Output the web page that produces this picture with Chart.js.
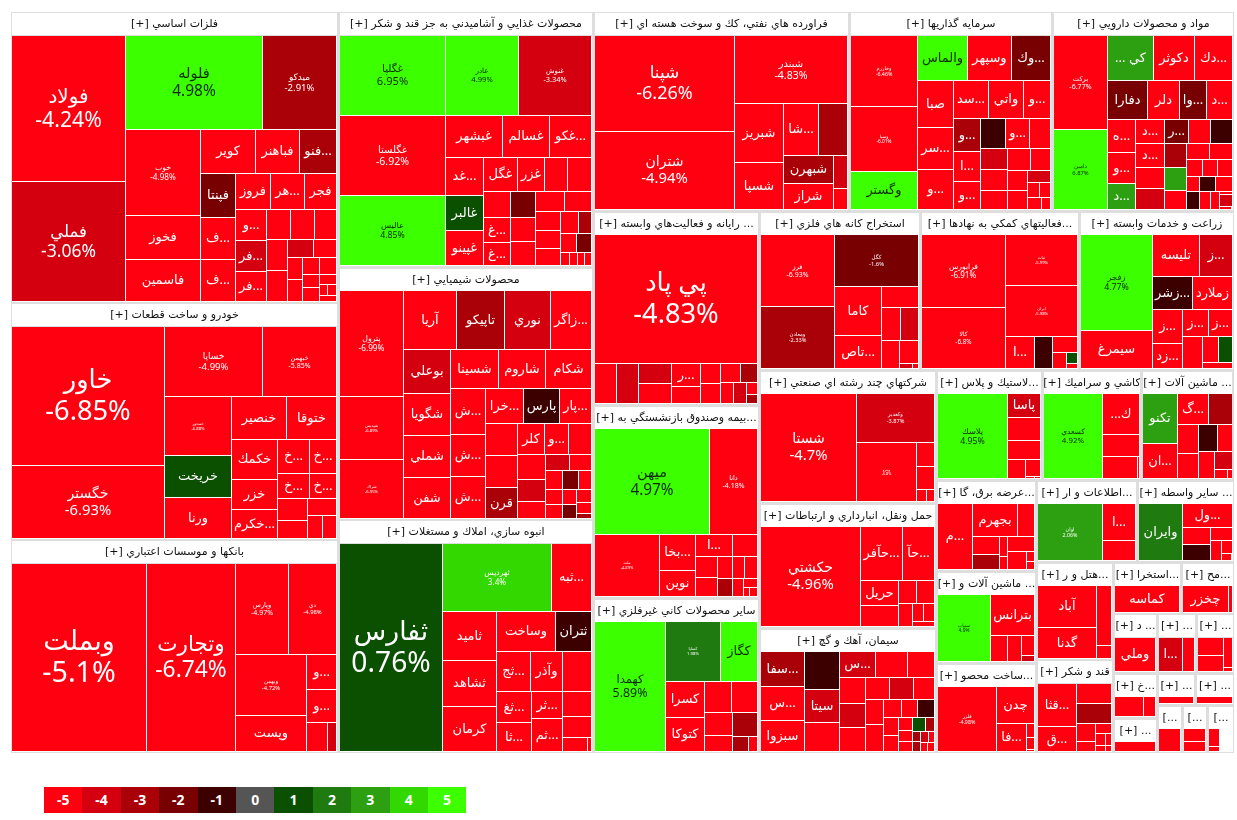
<!DOCTYPE html>
<html>
<head>
<meta charset="utf-8">
<title>نقشه بازار</title>
<script src="https://cdn.jsdelivr.net/npm/chart.js@4/dist/chart.umd.js"></script>
<style>
  html, body { margin: 0; background: #fff; }
  #map { position: absolute; left: 0; top: 0; }
  #legend { position: absolute; left: 44px; top: 787px; display: flex; }
  #legend div { width: 38.4px; height: 26px; text-align: center; color: #fff; font: bold 14px/26px "Noto Sans", sans-serif; }
</style>
</head>
<body>
<canvas id="map" width="1237" height="820"></canvas>
<div id="legend"></div>
<script>
const sectorNames = [
  'فلزات اساسي [+]', 'خودرو و ساخت قطعات [+]', 'بانكها و موسسات اعتباري [+]',
  'محصولات غذايي و آشاميدني به جز قند و شكر [+]', 'محصولات شيميايي [+]', 'انبوه سازي، املاك و مستغلات [+]',
  'فراورده هاي نفتي، كك و سوخت هسته اي [+]', 'سرمايه گذاريها [+]', 'مواد و محصولات دارويي [+]',
  '... رايانه و فعاليت‌هاي وابسته [+]', '...بيمه وصندوق بازنشستگي به [+]', 'ساير محصولات كاني غيرفلزي [+]',
  'استخراج كانه هاي فلزي [+]', '...فعاليتهاي كمكي به نهادها [+]', 'زراعت و خدمات وابسته [+]',
  'شركتهاي چند رشته اي صنعتي [+]', 'حمل ونقل، انبارداري و ارتباطات [+]', 'سيمان، آهك و گچ [+]',
  '...لاستيك و پلاس [+]', 'كاشي و سراميك [+]', '... ماشين آلات [+]',
  '...عرضه برق، گا [+]', '... ماشين آلات و [+]', '...ساخت محصو [+]',
  '...اطلاعات و ار [+]', '... ساير واسطه [+]', '...هتل و ر [+]', 'قند و شكر [+]',
  '...استخرا [+]', '...مح [+]', '... د [+]', '... [+]', '... [+]', '...خ [+]', '... [+]', '... [+]', '... [+]',
  '...]', '...]', '...]'
];
const sectorSizes = [
  95466, 77454, 69921, 65408, 64514, 59532, 50972, 40499, 36309, 32107,
  31942, 25653, 25599, 25281, 24645, 23541, 22125, 22125, 11660, 10890,
  10230, 9100, 9200, 9000, 8232, 7906, 7530, 7180, 3502, 2730,
  2596, 2301, 2242, 1980, 1540, 1216, 1216, 1200, 1200, 1248
];

// one line per sector, same order as sectorNames
const stockNames = [
  ['فولاد','فملي','فلوله','ميدكو','خوب','فخوز','فاسمين','كوير','فباهنر','...فنو','فپنتا','...ف','...ف','فروز','...هر','فجر','...و','...فر','...فر'],
  ['خاور','خگستر','خساپا','خبهمن','خمحور','خريخت','ورنا','خنصير','ختوقا','خكمك','خزر','...خكرم','...خ','...خ','...خ','...خ'],
  ['وبملت','وتجارت','وپارس','دي','وبهمن','وپست','...و','...و'],
  ['غگلپا','غگلستا','عاليس','عادر','غنوش','غبشهر','غسالم','...غكو','...غد','غالبر','غپينو','غگل','غزر','','','','...غ','...غ'],
  ['پترول','شپديس','شراك','آريا','تاپيكو','نوري','...زاگر','بوعلي','شگويا','شملي','شفن','شسينا','شاروم','شكام','...ش','...ش','...ش','...خرا','پارس','...پار','','','قرن','كلر','...و'],
  ['ثفارس','ثهرديس','...ثبه','ثاميد','ثشاهد','كرمان','وساخت','ثتران','...ثج','وآذر','','...ثغ','...ثا','...ثر','...ثم'],
  ['شپنا','شتران','شبندر','شبريز','شسپا','...شا','','شبهرن','شراز'],
  ['وخارزم','وسپا','وگستر','والماس','وسپهر','...وك','صبا','...سر','...و','...سد','واتي','...و','...و','...ا','...و','','...و'],
  ['بركت','دامين','كي ...','دكوثر','...دك','دفارا','دلر','...وا','...د','...ه','...و','...د','...د','...د','','','...ر'],
  ['پي پاد','','','','','...ر'],
  ['ميهن','دانا','ملت','...بخا','نوين','...ا'],
  ['كهمدا','كساپا','كگاز','كسرا','كتوكا'],
  ['فرز','ومعادن','كگل','كاما','...تاص'],
  ['فرابورس','كالا','ثبات','ايران','...ا'],
  ['زفجر','سيمرغ','تليسه','...ز','...زشر','زملارد','...ز','...زد','...ز','...ز'],
  ['شستا','وكغدير','وپترو'],
  ['حكشتي','...حآفر','...حآ','حريل'],
  ['...سفا','...س','سبزوا','','سيتا','','...س'],
  ['پلاسك','پاسا'],
  ['كسعدي','ك...'],
  ['تكنو','...ان','...گ'],
  ['...م','بجهرم'],
  ['سنياب','بترانس'],
  ['فلزر','چدن','...فا'],
  ['اوان','...ا'],
  ['وايران','...ول'],
  ['آباد','گدنا'],
  ['...قثا','...ق'],
  ['كماسه'],
  ['چخزر'],
  ['وملي'],
  ['...ا'],
  [], [], [], [], [], [], [], []
];
const stockSizes = [
  [16280,13250,12680,6780,6364,3280,3083,2332,1891,1579,1467,1400,1389,1236,1179,1109,961,930,930,732,692,653,620,627,450,383,342,332,272,267,232,227,161,89,93,89],
  [20500,10700,6580,4930,3830,2690,2600,2315,2067,1753,1360,1254,1034,882,781,666,640,500,445,335,290],
  [24940,16480,4790,4276,4236,2509,1000,940,587,254],
  [8213,8042,7187,5660,5650,2235,1864,1653,1393,1308,1283,1122,856,780,778,659,633,599,607,584,568,547,510,460,436,436,381,293,282,270,122,108,84,98],
  [6317,3823,3537,2913,2616,2524,2245,1904,1844,1813,1790,1688,1664,1641,1496,1375,1342,1220,1176,1056,971,981,920,772,684,684,658,553,439,360,340,312,269,244,234,218,191,178,179,158,66],
  [20562,7012,2616,2578,2382,2347,2249,1393,1298,1232,1141,1018,939,811,984,688,573,342,59],
  [13166,10660,7524,2793,2240,1820,1456,1342,1309,431,276],
  [4560,4096,2450,2152,1921,1647,1575,1439,1337,1248,1225,951,878,764,737,696,706,580,546,529,485,476,413,373,342,248,175,160,163,97],
  [4717,4000,1920,1749,1564,1405,1126,981,884,858,806,685,649,604,560,551,552,491,498,482,475,400,347,328,256,224,229,182,224,210,217,177,150,36,139,33],
  [20008,847,834,654,644,622,471,406,387,373,299,261,253,125,102],
  [11447,4815,3782,1202,881,756,518,427,386,320,256,242,260,173,116,60,64],
  [8863,3172,2114,1307,1269,792,753,633,420,581,226,128],
  [4899,4284,4016,2115,1470,697,591,538,452,406,59,25],
  [5771,4791,3420,3400,871,522,348,221,108,55],
  [6310,2528,1830,1237,1223,1183,947,706,642,591,570,381,324,174],
  [10173,3702,3401,424,412,119,95],
  [9438,2097,1627,929,746,409,387,300,181,181,115],
  [1367,1326,1203,1140,992,866,824,731,622,592,560,551,452,459,406,380,409,298,255,261,221,214,154,135,131,159,99,69,64,81,56,59,55],
  [5667,759,714,589,335,230,22,15],
  [4788,1443,777,729,43],
  [1574,1121,870,640,557,479,470,338,406,281,104,40],
  [2090,1365,506,456,384,151,102,363,306,78,62],
  [3283,1695,430,342,234,70],
  [3589,1291,793,106,92,14],
  [3614,1164,636],
  [2364,1098,433,414,270,213,124,72],
  [2304,1738,885,185],
  [1440,840,612,589,300,156,139,99,66,48,32],
  [1520],
  [1072,80],
  [1333],
  [756,344],
  [406,365,228,36],
  [595,245],
  [292],
  [252],
  [249],
  [462],
  [241,179],
  [150,45,128,96]
];
// percent change; whole numbers are read from the cell colour only, null = no trade
const stockChanges = [
  [-4.24,-3.06,4.98,-2.91,-4.98,-5,-5,-5,-5,-3,-2,-5,-5,-5,-5,-5,-5,-4,-5,-5,-5,-5,-5,-5,-4,-5,-5,-5,-5,-5,-5,-5,-5,-5,-5,-5],
  [-6.85,-6.93,-4.99,-5.85,-6.88,1,-5,-5,-5,-5,-5,-5,-5,-5,-5,-5,-5,-5,-5,-5,-5],
  [-5.1,-6.74,-4.97,-4.98,-4.72,-5,-5,-5,-5,-4],
  [6.95,-6.92,4.85,4.99,-3.34,-5,-5,-5,-5,1,-5,-5,-5,-5,-5,-5,-5,-5,-2,-5,-5,-5,-5,-5,-5,-5,-5,-3,-5,-2,-5,-5,-5,-5],
  [-6.99,-6.89,-6.95,-5,-3,-4,-5,-4,-5,-5,-5,-5,-5,-5,-5,-5,-5,-5,-1,-5,-5,-5,-3,-5,-5,-5,-5,-4,-5,-4,-5,-5,-2,-5,-5,-5,-5,-2,-5,-5,-3],
  [0.76,3.4,-5,-5,-5,-5,-5,-1,-5,-5,-5,-5,-5,-5,-5,-5,-5,-5,-5],
  [-6.26,-4.94,-4.83,-5,-5,-5,-3,-3,-5,-4,-5],
  [-6.46,-6.01,5,5,-5,-2,-5,-5,-5,-5,-5,-5,-3,-5,-5,-1,-5,-5,-4,-5,-5,-5,-5,-5,-5,-4,-5,-5,-5,-5],
  [-6.77,6.87,3,-5,-5,-2,-5,-2,-5,-5,-5,3,-5,-5,-5,-4,-2,-5,-1,-3,3,-5,-5,-5,-5,-5,-5,-5,-1,-1,-5,-5,-5,-5,-4,-5],
  [-4.83,-5,-4,-4,-5,-5,-5,-5,-5,-5,-3,-5,-4,-5,-3],
  [4.97,-4.18,-4.89,-5,-5,-5,-5,-5,-5,-5,-3,-5,-5,-5,-5,-5,-5],
  [5.89,1.98,5,-5,-5,-5,-5,-5,-5,-3,-3,-5],
  [-6.93,-2.33,-1.6,-5,-5,-5,-5,-4,-5,-5,-4,-5],
  [-6.91,-6.8,-5.99,-5.98,-5,-1,-5,-5,1,-5],
  [4.77,-5,-5,-4,-1,-5,-5,-5,-5,-5,-5,-5,1,-5],
  [-4.7,-3.87,-6.8,-5,-5,-5,-5],
  [-4.96,-5,-5,-5,-5,-5,-5,-5,-5,-5,-5],
  [-3,-5,-5,-1,-4,-5,-4,-5,-5,-5,-4,-5,-5,-4,-5,-5,-5,-5,-5,-1,-5,-5,-5,-5,-5,1,-3,-3,-3,-4,-5,-5,-5],
  [4.95,-4,-5,-5,-5,-5,-5,-5],
  [4.92,-5,-5,-5,-5],
  [3,-5,-5,-3,-5,-5,-1,-5,-5,-4,-5,-5],
  [-5,-5,-5,-5,-3,-5,-5,-5,-5,-5,-5],
  [4.9,-5,-5,-5,-5,-4],
  [-4.98,-5,-5,-5,-5,-5],
  [2.06,-5,-5],
  [2,-5,-5,-1,-5,-5,-5,-5],
  [-5,-5,-5,-5],
  [-5,-5,-5,-3,-5,-5,-5,-5,-5,-5,-5],
  [-5],
  [-5,-5],
  [-5],
  [-4,-5],
  [-5,-5,-5,-5],
  [-5,-5],
  [-5],
  [-5],
  [-5],
  [-5],
  [-5,-5],
  [-5,-5,null,null]
];

const legendTicks = [-5, -4, -3, -2, -1, 0, 1, 2, 3, 4, 5];
const legendColors = ['#ff0010', '#d40010', '#aa0008', '#780000', '#3c0000', '#555555', '#0a5000', '#1f7a10', '#2ca010', '#33d800', '#3cff00'];

// font size of the cells that also print their percent
const percentLabelFont = {
  'فولاد':20,'فملي':16.5,'فلوله':14.6,'ميدكو':9,'خوب':7.7,'خاور':25.7,'خگستر':14,'خساپا':9,'خبهمن':6.6,'خمحور':4,
  'وبملت':27,'وتجارت':21.5,'وپارس':6.6,'دي':5.5,'وبهمن':5.5,'غگلپا':10.5,'غگلستا':10,'عاليس':8.3,'عادر':7.2,'غنوش':7,
  'پترول':7.8,'شپديس':4,'شراك':4,'ثفارس':26.6,'ثهرديس':7.7,'شپنا':17,'شتران':14,'شبندر':10,'وخارزم':5,'وسپا':4.5,
  'بركت':6.7,'دامين':5.5,'پي پاد':25.7,'ميهن':14.5,'دانا':6.6,'ملت':3.8,'كهمدا':11.7,'كساپا':4,'فرز':6.6,'ومعادن':5.3,
  'كگل':5.5,'فرابورس':7.6,'كالا':6,'ثبات':4,'ايران':4,'زفجر':8.3,'شستا':14,'وكغدير':5.3,'وپترو':3.5,'حكشتي':14,
  'پلاسك':8.3,'كسعدي':7.5,'سنياب':4.6,'فلزر':5,'اوان':5
};

const FONT = '"Noto Sans", "DejaVu Sans", sans-serif';
const HEADER_H = 23;
const ROW_TOLERANCE = 1.03;

function changeColor(change) {
  if (change === null) return '#ffffff';
  var step = Math.min(5, Math.ceil(Math.abs(change)));
  return legendColors[change < 0 ? 5 - step : 5 + step];
}

// plain squarified layout, values kept in the given order
function squarify(values, box) {
  var total = values.reduce((a, b) => a + b, 0);
  var scale = box.w * box.h / total;
  var left = { x: box.x, y: box.y, w: box.w, h: box.h };
  var out = [];
  var i = 0;
  function worst(sum, min, max, side) {
    return Math.max(side * side * max / (sum * sum), sum * sum / (side * side * min));
  }
  while (i < values.length) {
    var side = Math.min(left.w, left.h);
    var sum = 0, min = Infinity, max = 0, j = i;
    while (j < values.length) {
      var a = values[j] * scale;
      var s2 = sum + a, mn = Math.min(min, a), mx = Math.max(max, a);
      if (j > i && worst(s2, mn, mx, side) > worst(sum, min, max, side) * ROW_TOLERANCE) break;
      sum = s2; min = mn; max = mx; j++;
    }
    var thick = sum / side, pos = 0;
    for (var k = i; k < j; k++) {
      var len = values[k] * scale / thick;
      if (left.w >= left.h) out.push({ x: left.x, y: left.y + pos, w: thick, h: len });
      else out.push({ x: left.x + pos, y: left.y, w: len, h: thick });
      pos += len;
    }
    if (left.w >= left.h) { left.x += thick; left.w -= thick; }
    else { left.y += thick; left.h -= thick; }
    i = j;
  }
  return out;
}

class CellElement extends Chart.Element {
  static id = 'treecell';
  static defaults = {};
  draw(ctx) {
    ctx.fillStyle = this.fill;
    ctx.fillRect(this.left, this.top, this.right - this.left, this.bottom - this.top);
    if (!this.title && !this.name) return;
    var w = this.right - this.left, cx = (this.left + this.right) / 2, cy = (this.top + this.bottom) / 2;
    ctx.save();
    ctx.beginPath();
    ctx.rect(this.left, this.top, w, this.bottom - this.top);
    ctx.clip();
    ctx.textAlign = 'center';
    ctx.textBaseline = 'middle';
    ctx.direction = 'rtl';
    if (this.title) {
      ctx.fillStyle = '#111';
      ctx.font = '11px "DejaVu Sans"';
      ctx.fillText(this.title, cx, cy);
    } else {
      var size = percentLabelFont[this.name];
      ctx.fillStyle = this.change >= 4.5 ? '#0c2a00' : '#ffffff';
      if (size) {
        ctx.font = size + 'px ' + FONT;
        ctx.fillText(this.name, cx, cy - size * 0.58);
        ctx.direction = 'ltr';
        ctx.font = (size * 1.06) + 'px ' + FONT;
        ctx.fillText(this.change + '%', cx, cy + size * 0.62);
      } else {
        size = 13;
        ctx.font = size + 'px ' + FONT;
        while (size > 6 && ctx.measureText(this.name).width > w - 2) {
          size -= 1;
          ctx.font = size + 'px ' + FONT;
        }
        ctx.fillText(this.name, cx, cy);
      }
    }
    ctx.restore();
  }
}

class TreemapController extends Chart.DatasetController {
  static id = 'treemap';
  static defaults = { dataElementType: 'treecell', datasetElementType: false };
  update() {
    var meta = this._cachedMeta;
    var data = this.getDataset().data;
    var xs = meta.xScale, ys = meta.yScale;
    meta.data.forEach((el, i) => {
      var d = data[i];
      Object.assign(el, {
        left: Math.round(xs.getPixelForValue(d.x)),
        right: Math.round(xs.getPixelForValue(d.x + d.w)) - d.gap,
        top: Math.round(ys.getPixelForValue(d.y)),
        bottom: Math.round(ys.getPixelForValue(d.y + d.h)) - d.gap,
        fill: d.fill, name: d.name, title: d.title, change: d.change
      });
    });
  }
}

Chart.register(CellElement, TreemapController);

// build the cells from the arrays above
var root = { x: 10.5, y: 11.5, w: 1223.5, h: 741.5 };
var sectorBoxes = squarify(sectorSizes, root);
var frames = [], headers = [], backs = [], cells = [];
sectorBoxes.forEach((b, s) => {
  frames.push({ x: b.x, y: b.y, w: b.w, h: b.h, gap: 0, fill: '#dedede' });
  headers.push({ x: b.x + 1.5, y: b.y + 1.5, w: b.w - 3, h: HEADER_H - 1, gap: 0, fill: '#ffffff', title: sectorNames[s] });
  var inner = { x: b.x + 1.5, y: b.y + HEADER_H + 1, w: b.w - 3, h: b.h - HEADER_H - 2 };
  backs.push({ x: inner.x, y: inner.y, w: inner.w, h: inner.h, gap: 0, fill: '#ffffff' });
  squarify(stockSizes[s], inner).forEach((r, i) => {
    var change = stockChanges[s][i];
    cells.push({ x: r.x, y: r.y, w: r.w, h: r.h, gap: 1, fill: changeColor(change), name: stockNames[s][i] || '', change: change });
  });
});

new Chart(document.getElementById('map'), {
  type: 'treemap',
  data: {
    datasets: [
      { data: frames, order: 4 },
      { data: backs, order: 3 },
      { data: headers, order: 2 },
      { data: cells, order: 1 }
    ]
  },
  options: {
    responsive: false,
    animation: false,
    devicePixelRatio: 1,
    parsing: false,
    events: [],
    layout: { padding: 0 },
    plugins: { legend: { display: false }, tooltip: { enabled: false } },
    scales: {
      x: { type: 'linear', display: false, min: 0, max: 1237 },
      y: { type: 'linear', display: false, min: 0, max: 820, reverse: true }
    }
  }
});

var legendBox = document.getElementById('legend');
legendTicks.forEach((t, i) => {
  var d = document.createElement('div');
  d.textContent = t;
  d.style.background = legendColors[i];
  legendBox.appendChild(d);
});
</script>
</body>
</html>
